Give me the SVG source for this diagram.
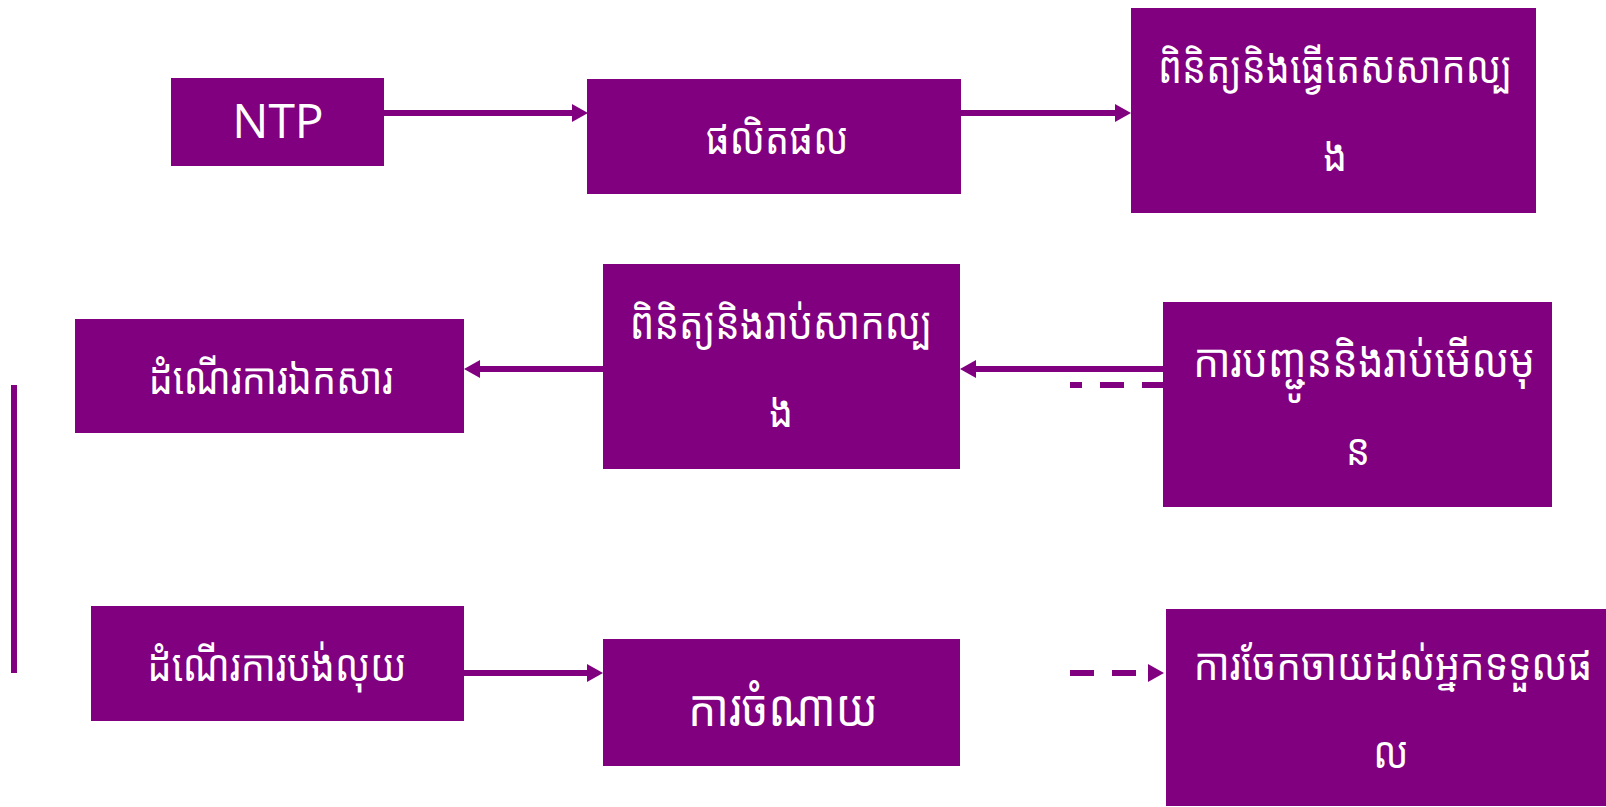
<svg xmlns="http://www.w3.org/2000/svg" width="1606" height="807" viewBox="0 0 1606 807">
<style>
.box{fill:#800080}
.t{fill:#ffffff;font-family:"Noto Sans Khmer","Khmer OS","Noto Sans","DejaVu Sans",sans-serif;font-size:38px;text-anchor:middle}
.lat{fill:#ffffff;font-family:"Open Sans","Noto Sans","Liberation Sans",sans-serif;font-size:48px;text-anchor:middle}
.c{stroke:#800080;stroke-width:6;fill:none}
</style>
<defs>
<marker id="ah" viewBox="0 0 16 18" refX="0" refY="9" markerWidth="16" markerHeight="18" markerUnits="userSpaceOnUse" orient="auto">
<path d="M0,0 L16,9 L0,18 Z" fill="#800080"/>
</marker>
</defs>
<rect width="1606" height="807" fill="#ffffff"/>
<g id="connectors">
<line class="c" x1="384" y1="113" x2="572" y2="113" marker-end="url(#ah)"/>
<line class="c" x1="960" y1="113" x2="1115" y2="113" marker-end="url(#ah)"/>
<line class="c" x1="604" y1="369" x2="480" y2="369" marker-end="url(#ah)"/>
<line class="c" x1="1164" y1="369" x2="976" y2="369" marker-end="url(#ah)"/>
<line class="c" x1="1070" y1="385" x2="1164" y2="385" stroke-dasharray="24 18" stroke-dashoffset="12"/>
<line class="c" x1="14" y1="385" x2="14" y2="673"/>
<line class="c" x1="464" y1="673" x2="587" y2="673" marker-end="url(#ah)"/>
<line class="c" x1="1070" y1="673" x2="1148" y2="673" stroke-dasharray="24 18" marker-end="url(#ah)"/>
</g>
<g id="n1"><rect class="box" x="171" y="78" width="213" height="88"/><text class="lat" x="278" y="138">NTP</text></g>
<g id="n2"><rect class="box" x="587" y="79" width="374" height="115"/><text class="t" transform="translate(777 154) scale(1 1.15)">ផលិតផល</text></g>
<g id="n3"><rect class="box" x="1131" y="8" width="405" height="205"/><text class="t" transform="translate(1335 83) scale(1 1.15)">ពិនិត្យនិងធ្វើតេសសាកល្ប</text><text class="t" transform="translate(1335 171) scale(1 1.15)">ង</text></g>
<g id="n4"><rect class="box" x="75" y="319" width="389" height="114"/><text class="t" transform="translate(271 394) scale(1 1.15)">ដំណើរការឯកសារ</text></g>
<g id="n5"><rect class="box" x="603" y="264" width="357" height="205"/><text class="t" transform="translate(781 339) scale(1 1.15)" style="font-size:38.8px">ពិនិត្យនិងរាប់សាកល្ប</text><text class="t" transform="translate(781 427) scale(1 1.15)">ង</text></g>
<g id="n6"><rect class="box" x="1163" y="302" width="389" height="205"/><text class="t" transform="translate(1364 377) scale(1 1.15)" style="font-size:40.5px">ការបញ្ជូននិងរាប់មើលមុ</text><text class="t" transform="translate(1358 465) scale(1 1.15)">ន</text></g>
<g id="n7"><rect class="box" x="91" y="606" width="373" height="115"/><text class="t" transform="translate(277 681) scale(1 1.15)">ដំណើរការបង់លុយ</text></g>
<g id="n8"><rect class="box" x="603" y="639" width="357" height="127"/><text class="t" transform="translate(783 726) scale(1 1.15)" style="font-size:44px">ការចំណាយ</text></g>
<g id="n9"><rect class="box" x="1166" y="609" width="454" height="197"/><text class="t" transform="translate(1393 680) scale(1 1.15)" style="font-size:39px">ការចែកចាយដល់អ្នកទទួលផ</text><text class="t" transform="translate(1391 768) scale(1 1.15)">ល</text></g>
</svg>
